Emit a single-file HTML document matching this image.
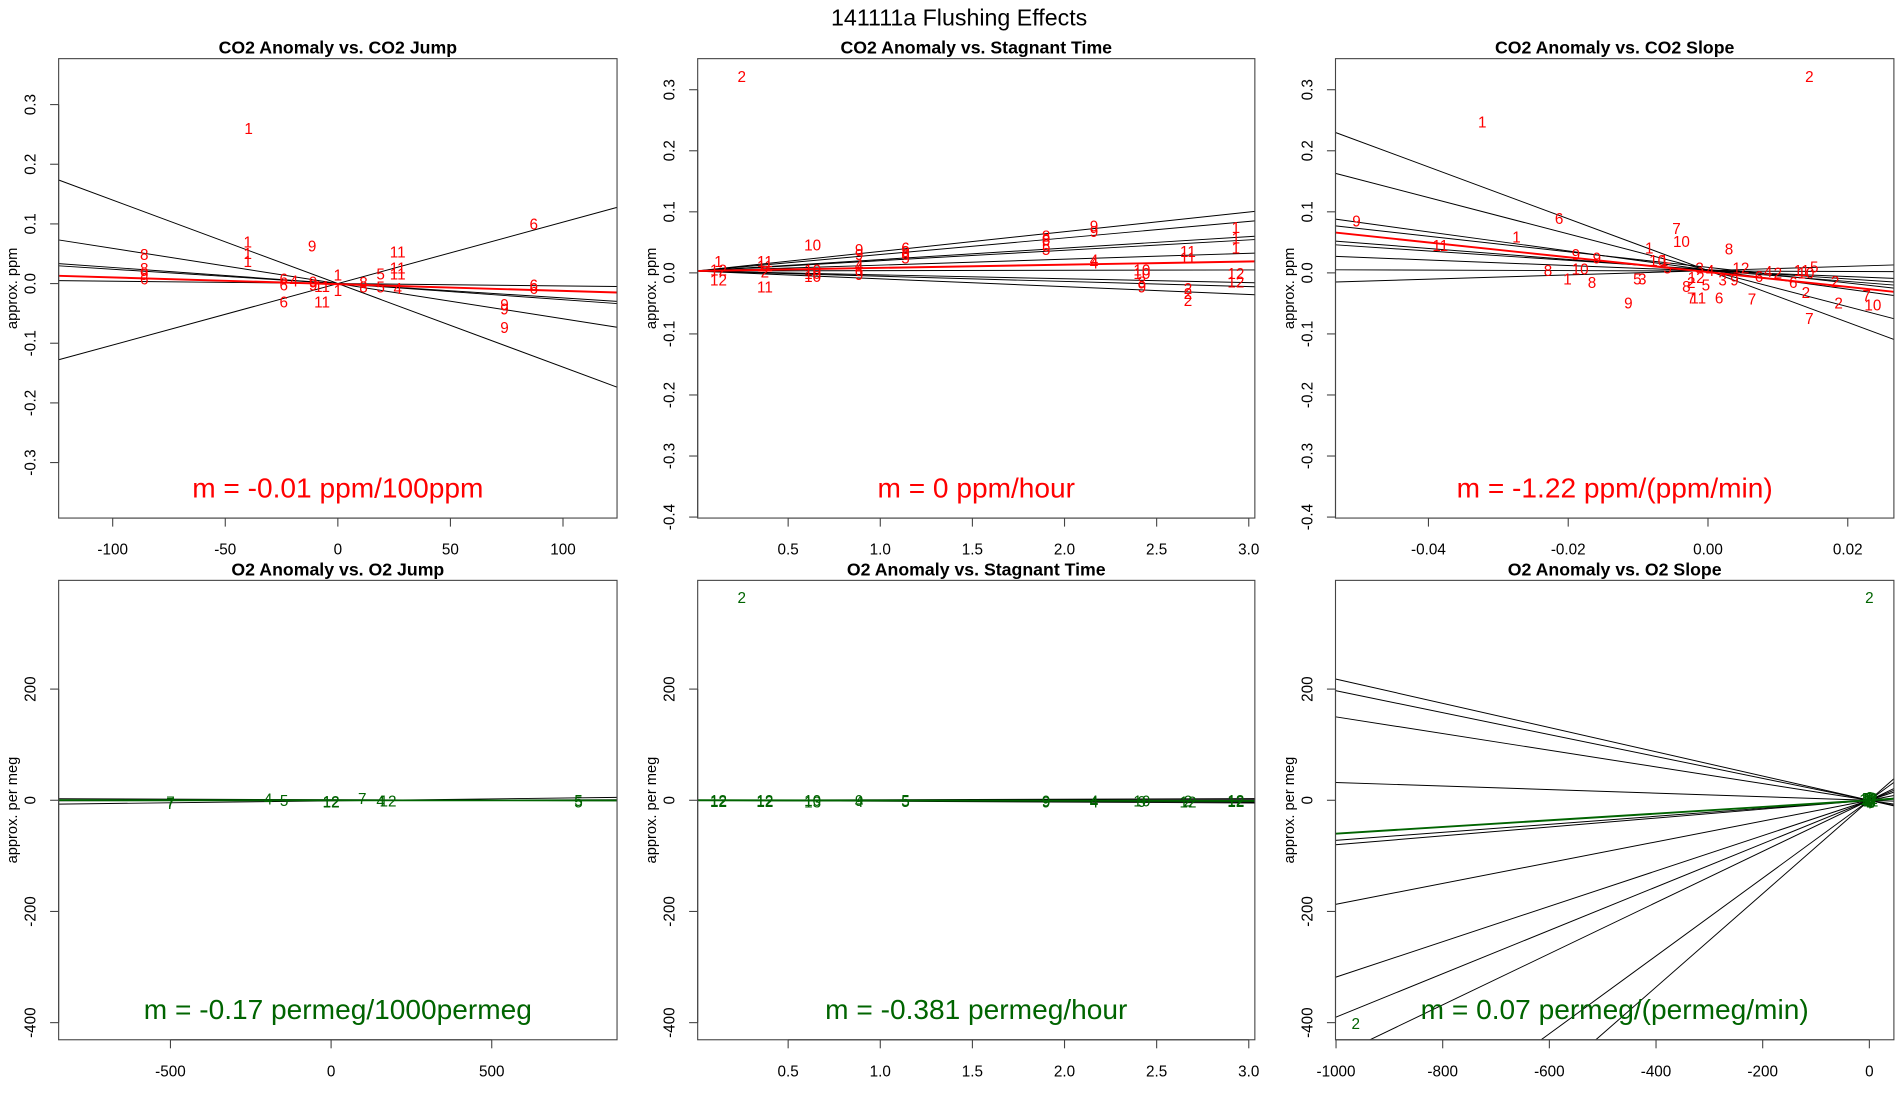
<!DOCTYPE html>
<html><head><meta charset="utf-8"><title>141111a Flushing Effects</title>
<style>
html,body{margin:0;padding:0;background:#fff;width:1900px;height:1100px;overflow:hidden;}
svg{display:block;position:absolute;left:0;top:0;font-family:"Liberation Sans",Arial,sans-serif;}
</style></head>
<body>
<svg id="fig" width="1900" height="1100" viewBox="0 0 1555 900.3" preserveAspectRatio="none" xmlns="http://www.w3.org/2000/svg">
<text x="785" y="21" font-size="19" text-anchor="middle">141111a   Flushing Effects</text>
</svg>
<script>
// ---------- Panel 1: CO2 Anomaly vs CO2 Jump ----------
const p1Labels = ["1","1","1","1","9","8","8","9","6","6","4","6","6","9","9","11","11","1","1","8","8","5","5","11","11","11","4","6","6","6","9","9","9"];
const p1X = [-39.6,-40,-40,-40,-11.4,-86,-86,-86,-86,-24,-19.5,-24,-24,-11,-11,-7,-7,0,0,11.4,11.4,19,19,26.6,26.6,26.6,26.6,87,87,87,74,74,74];
const p1Y = [0.26,0.07,0.05,0.037,0.063,0.049,0.025,0.015,0.008,0.008,0.004,-0.002,-0.031,0.003,-0.002,-0.005,-0.031,0.014,-0.012,0.002,-0.006,0.016,-0.006,0.053,0.026,0.016,-0.008,0.1,-0.002,-0.008,-0.035,-0.043,-0.074];
const p1Slopes = [-0.0014,-0.00059,-0.00027,-0.00024,-0.00004,0.00103];
const p1Intercepts = [0,0,0,0,0,0];
const p1FitSlope = -0.000113, p1FitIntercept = -0.001;
const p1XTicks = [-100,-50,0,50,100];
const p1XTickLabels = ["-100","-50","0","50","100"];
const p1YTicks = [-0.3,-0.2,-0.1,0,0.1,0.2,0.3];
const p1YTickLabels = ["-0.3","-0.2","-0.1","0.0","0.1","0.2","0.3"];

// ---------- Panel 2: CO2 Anomaly vs Stagnant Time ----------
const p2Labels = ["1","12","12","2","11","11","2","11","10","10","10","10","9","9","4","4","9","6","8","6","5","8","8","5","5","9","9","4","4","10","10","8","9","11","11","2","2","2","1","1","1","12","12"];
const p2X = [0.122,0.122,0.122,0.248,0.374,0.374,0.374,0.374,0.633,0.633,0.633,0.633,0.885,0.885,0.885,0.885,0.885,1.137,1.137,1.137,1.137,1.9,1.9,1.9,1.9,2.16,2.16,2.16,2.16,2.42,2.42,2.42,2.42,2.67,2.67,2.67,2.67,2.67,2.93,2.93,2.93,2.93,2.93];
const p2Y = [0.019,0.005,-0.012,0.322,0.019,0.011,0.001,-0.023,0.046,0.005,-0.001,-0.006,0.038,0.030,0.013,0.0075,-0.003,0.041,0.035,0.030,0.024,0.060,0.055,0.044,0.038,0.077,0.068,0.021,0.016,0.005,-0.001,-0.015,-0.023,0.035,0.024,-0.026,-0.034,-0.045,0.074,0.057,0.041,-0.001,-0.015];
const p2Slopes = [0.0322,0.0271,0.0188,0.0170,0.0097,0.0006,-0.0063,-0.0085,-0.0128];
const p2Intercepts = [0.003,0.003,0.003,0.003,0.003,0.003,0.003,0.003,0.003];
const p2FitSlope = 0.0052, p2FitIntercept = 0.003;
const timeTicks = [0.5,1.0,1.5,2.0,2.5,3.0];
const timeTickLabels = ["0.5","1.0","1.5","2.0","2.5","3.0"];
const co2YTicks = [-0.4,-0.3,-0.2,-0.1,0,0.1,0.2,0.3];
const co2YTickLabels = ["-0.4","-0.3","-0.2","-0.1","0.0","0.1","0.2","0.3"];

// ---------- Panel 3: CO2 Anomaly vs CO2 Slope ----------
const p3Labels = ["2","1","9","6","1","11","7","10","8","1","9","9","8","10","1","8","9","5","3","1","10","5","3","12","8","2","7","11","6","5","4","3","9","12","6","2","4","7","6","11","10","5","2","2","7","2","7","10"];
const p3X = [0.0145,-0.0323,-0.0503,-0.0213,-0.0274,-0.0383,-0.0045,-0.0038,0.003,-0.0084,-0.0189,-0.0159,-0.0229,-0.0183,-0.0201,-0.0166,-0.0114,-0.0101,-0.0094,-0.0063,-0.0072,-0.0058,-0.0012,-0.0017,-0.0031,-0.0024,-0.0024,-0.0014,0.0016,-0.0003,0.0003,0.0021,0.0038,0.0047,0.0073,0.0100,0.0086,0.0063,0.0122,0.0134,0.0140,0.0152,0.0140,0.0182,0.0145,0.0187,0.0227,0.0236];
const p3Y = [0.322,0.247,0.085,0.089,0.059,0.045,0.073,0.051,0.039,0.041,0.030,0.024,0.004,0.006,-0.010,-0.016,-0.049,-0.010,-0.010,0.020,0.020,0.008,0.008,-0.008,-0.022,-0.016,-0.041,-0.041,-0.041,-0.020,0.004,-0.012,-0.012,0.008,-0.006,0.000,0.002,-0.043,-0.016,0.004,0.000,0.010,-0.032,-0.014,-0.075,-0.049,-0.037,-0.053];
const p3Slopes = [-4.243,-2.979,-1.564,-1.276,-0.901,-0.763,-0.451,-0.038,0.350];
const p3Intercepts = [0.0038,0.0042,0.0046,0.009,0.004,0.0053,0.003,0.003,0.0037];
const p3FitSlope = -1.214, p3FitIntercept = 0.0013;
const p3XTicks = [-0.04,-0.02,0,0.02];
const p3XTickLabels = ["-0.04","-0.02","0.00","0.02"];

// ---------- Panel 4: O2 Anomaly vs O2 Jump ----------
const p4Labels = ["7","7","4","5","12","12","7","4","12","5","5"];
const p4X = [-500,-500,-196,-146,0,0,97,154,177,770,770];
const p4Y = [-3,-6,2,0,-2,-3,3,-1,-1,0,-3];
const p4Slopes = [0.007,-0.002,0.001];
const p4Intercepts = [-1,1,0];
const p4FitSlope = -0.00017, p4FitIntercept = 0;
const p4XTicks = [-500,0,500];
const p4XTickLabels = ["-500","0","500"];
const o2YTicks = [-400,-200,0,200];
const o2YTickLabels = ["-400","-200","0","200"];

// ---------- Panel 5: O2 Anomaly vs Stagnant Time ----------
const p5Labels = ["2","12","12","12","12","10","13","9","4","5","5","9","9","4","4","10","9","2","12","12","12"];
const p5X = [0.248,0.122,0.122,0.374,0.374,0.633,0.633,0.885,0.885,1.137,1.137,1.9,1.9,2.16,2.16,2.42,2.42,2.67,2.67,2.93,2.93];
const p5Y = [365,0,-2,0,-2,0,-3,0,-2,0,-2,-1,-3,-1,-3,-1,-2,-1,-3,0,-2];
const p5Slopes = [1,0.33,-0.33,-1,-1.6];
const p5Intercepts = [0,0,0,0,0];
const p5FitSlope = -0.381, p5FitIntercept = 0;

// ---------- Panel 6: O2 Anomaly vs O2 Slope ----------
const p6Labels = ["2","2","1","2","3","4","5","6","7","8","9","10","11","12"];
const p6X = [0,-963,-4,2,5,-2,0,3,-5,1,4,-3,2,0];
const p6Y = [365,-402,2,-3,4,-5,0,-2,3,5,-4,1,-1,3];
const p6Slopes = [-0.218,-0.197,-0.150,-0.032,0.072,0.080,0.187,0.318,0.390,0.460,0.700,0.840];
const p6Intercepts = [0,0,0,0,0,0,0,0,0,0,0,0];
const p6FitSlope = 0.06, p6FitIntercept = 0;
const p6XTicks = [-1000,-800,-600,-400,-200,0];
const p6XTickLabels = ["-1000","-800","-600","-400","-200","0"];

const NS = "http://www.w3.org/2000/svg";
const svg = document.getElementById("fig");
function mk(tag, attrs, parent){
  const e = document.createElementNS(NS, tag);
  for (const k in attrs) e.setAttribute(k, attrs[k]);
  (parent||svg).appendChild(e);
  return e;
}
// clip a line y=a+b*x to the data window; returns [xa,xb] or null
function clipX(a, b, xlim, ylim){
  let lo = xlim[0], hi = xlim[1];
  if (b !== 0){
    let xA = (ylim[0]-a)/b, xB = (ylim[1]-a)/b;
    if (xA > xB){ const t = xA; xA = xB; xB = t; }
    lo = Math.max(lo, xA); hi = Math.min(hi, xB);
  } else if (a < ylim[0] || a > ylim[1]) return null;
  return lo < hi ? [lo, hi] : null;
}

const panels = [
 {id:"co2-jump", title:"CO2 Anomaly vs. CO2 Jump", box:[48,505,48,424], xlim:[-124,124], ylim:[-0.393,0.377],
  labels:p1Labels, xs:p1X, ys:p1Y, slopes:p1Slopes, ints:p1Intercepts, fs:p1FitSlope, fi:p1FitIntercept,
  xt:p1XTicks, xtl:p1XTickLabels, yt:p1YTicks, ytl:p1YTickLabels, ylab:"approx. ppm", color:"#ff0000", note:"m = -0.01 ppm/100ppm"},
 {id:"co2-stagnant", title:"CO2 Anomaly vs. Stagnant Time", box:[571,1027,48,424], xlim:[0.009,3.033], ylim:[-0.4016,0.3509],
  labels:p2Labels, xs:p2X, ys:p2Y, slopes:p2Slopes, ints:p2Intercepts, fs:p2FitSlope, fi:p2FitIntercept,
  xt:timeTicks, xtl:timeTickLabels, yt:co2YTicks, ytl:co2YTickLabels, ylab:"approx. ppm", color:"#ff0000", note:"m = 0 ppm/hour"},
 {id:"co2-slope", title:"CO2 Anomaly vs. CO2 Slope", box:[1093,1550,48,424], xlim:[-0.0533,0.0266], ylim:[-0.4016,0.3509],
  labels:p3Labels, xs:p3X, ys:p3Y, slopes:p3Slopes, ints:p3Intercepts, fs:p3FitSlope, fi:p3FitIntercept,
  xt:p3XTicks, xtl:p3XTickLabels, yt:co2YTicks, ytl:co2YTickLabels, ylab:"approx. ppm", color:"#ff0000", note:"m = -1.22 ppm/(ppm/min)"},
 {id:"o2-jump", title:"O2 Anomaly vs. O2 Jump", box:[48,505,475,851], xlim:[-848,890], ylim:[-430.8,395.6],
  labels:p4Labels, xs:p4X, ys:p4Y, slopes:p4Slopes, ints:p4Intercepts, fs:p4FitSlope, fi:p4FitIntercept,
  xt:p4XTicks, xtl:p4XTickLabels, yt:o2YTicks, ytl:o2YTickLabels, ylab:"approx. per meg", color:"#006400", note:"m = -0.17 permeg/1000permeg"},
 {id:"o2-stagnant", title:"O2 Anomaly vs. Stagnant Time", box:[571,1027,475,851], xlim:[0.009,3.033], ylim:[-430.8,395.6],
  labels:p5Labels, xs:p5X, ys:p5Y, slopes:p5Slopes, ints:p5Intercepts, fs:p5FitSlope, fi:p5FitIntercept,
  xt:timeTicks, xtl:timeTickLabels, yt:o2YTicks, ytl:o2YTickLabels, ylab:"approx. per meg", color:"#006400", note:"m = -0.381 permeg/hour"},
 {id:"o2-slope", title:"O2 Anomaly vs. O2 Slope", box:[1093,1550,475,851], xlim:[-1001,46], ylim:[-430.8,395.6],
  labels:p6Labels, xs:p6X, ys:p6Y, slopes:p6Slopes, ints:p6Intercepts, fs:p6FitSlope, fi:p6FitIntercept,
  xt:p6XTicks, xtl:p6XTickLabels, yt:o2YTicks, ytl:o2YTickLabels, ylab:"approx. per meg", color:"#006400", note:"m = 0.07 permeg/(permeg/min)"}
];

panels.forEach((p, i) => {
  const [x0,x1,y0,y1] = p.box;
  const sx = v => x0 + (v - p.xlim[0]) / (p.xlim[1]-p.xlim[0]) * (x1-x0);
  const sy = v => y1 - (v - p.ylim[0]) / (p.ylim[1]-p.ylim[0]) * (y1-y0);
  const g = mk("g", {});
  
  

  const t = mk("text", {x:(x0+x1)/2, y:y0-4, "font-size":14.5, "font-weight":"bold", "text-anchor":"middle"}, g);
  t.textContent = p.title;
  
  

  const plot = mk("g", {}, g);
  
  
  p.slopes.forEach((s, k) => {
    const r = clipX(p.ints[k], s, p.xlim, p.ylim);
    if (!r) return;
    const ln = mk("line", {x1:sx(r[0]), y1:sy(p.ints[k] + s*r[0]), x2:sx(r[1]), y2:sy(p.ints[k] + s*r[1]), stroke:"#000", "stroke-width":0.8}, plot);
    
    
  });
  const rf = clipX(p.fi, p.fs, p.xlim, p.ylim);
  if (rf){
    const fl = mk("line", {x1:sx(rf[0]), y1:sy(p.fi + p.fs*rf[0]), x2:sx(rf[1]), y2:sy(p.fi + p.fs*rf[1]), stroke:p.color, "stroke-width":1.6}, plot);
    
    
  }
  p.labels.forEach((lab, k) => {
    const tx = mk("text", {x:sx(p.xs[k]), y:sy(p.ys[k]) + 4.5, "font-size":12.5, fill:p.color, "text-anchor":"middle"}, plot);
    tx.textContent = lab;
    
    
  });
  const bx = mk("rect", {x:x0, y:y0, width:x1-x0, height:y1-y0, fill:"none", stroke:"#444", "stroke-width":0.9}, g);
  
  
  const xa = mk("g", {}, g);
  
  
  mk("line", {x1:sx(p.xt[0]), y1:y1, x2:sx(p.xt[p.xt.length-1]), y2:y1, stroke:"#444", "stroke-width":0.9}, xa);
  p.xt.forEach((v, k) => {
    mk("line", {x1:sx(v), y1:y1, x2:sx(v), y2:y1+7, stroke:"#444", "stroke-width":0.9}, xa);
    const tl = mk("text", {x:sx(v), y:y1+30, "font-size":12.5, "text-anchor":"middle"}, xa);
    tl.textContent = p.xtl[k];
    
    
  });
  const ya = mk("g", {}, g);
  
  
  mk("line", {x1:x0, y1:sy(p.yt[0]), x2:x0, y2:sy(p.yt[p.yt.length-1]), stroke:"#444", "stroke-width":0.9}, ya);
  p.yt.forEach((v, k) => {
    mk("line", {x1:x0-7, y1:sy(v), x2:x0, y2:sy(v), stroke:"#444", "stroke-width":0.9}, ya);
    const lx = x0-19, ly = sy(v);
    const tl = mk("text", {x:lx, y:ly, "font-size":12.5, "text-anchor":"middle", transform:"rotate(-90 "+lx+" "+ly+")"}, ya);
    tl.textContent = p.ytl[k];
    
    
  });
  const yx = x0-34, yy = (y0+y1)/2;
  const yl = mk("text", {x:yx, y:yy, "font-size":12, "text-anchor":"middle", transform:"rotate(-90 "+yx+" "+yy+")"}, g);
  yl.textContent = p.ylab;
  
  
  const nt = mk("text", {x:(x0+x1)/2, y:y1-17, "font-size":23, fill:p.color, "text-anchor":"middle"}, g);
  nt.textContent = p.note;
  
  
});
</script>
</body></html>
